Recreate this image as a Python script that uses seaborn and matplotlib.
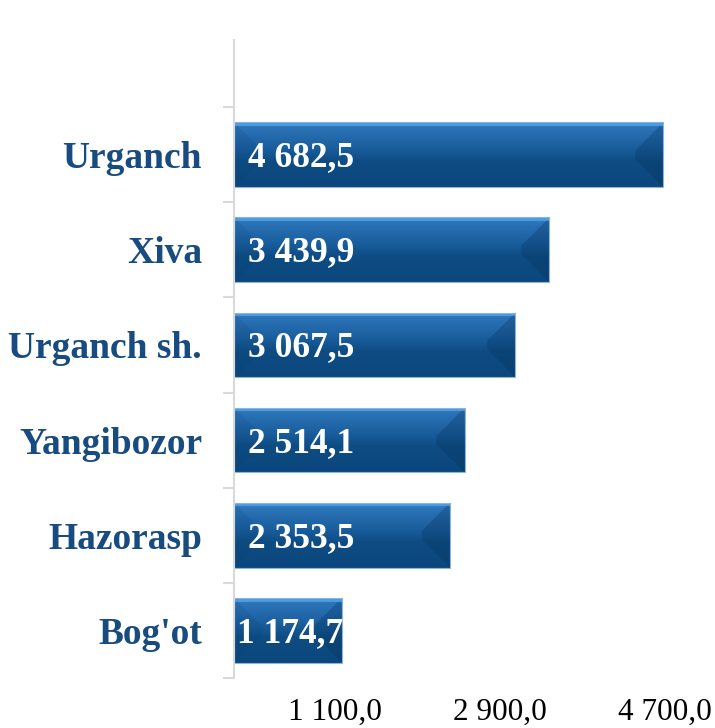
import numpy as np
import pandas as pd
import matplotlib
matplotlib.use("Agg")
import matplotlib.pyplot as plt
from matplotlib.colors import LinearSegmentedColormap
from matplotlib.patches import Polygon
import seaborn as sns

categories = ["Urganch", "Xiva", "Urganch sh.", "Yangibozor", "Hazorasp", "Bog'ot"]
values = [4682.5, 3439.9, 3067.5, 2514.1, 2353.5, 1174.7]
x_ticks = [1100, 2900, 4700]

label_color = "#184C80"
axis_color = "#D9D9D9"

sns.set_style("white")
plt.rcParams['font.family'] = ['Liberation Serif', 'DejaVu Serif']


def fmt(v):
    return f"{v:,.1f}".replace(",", " ").replace(".", ",")


df = pd.DataFrame({"name": categories, "value": values})

fig = plt.figure(figsize=(7.15, 7.28), dpi=100)
ax = fig.add_axes([234 / 715, 50 / 728, 481 / 715, 638 / 728])

bar_h = 0.68
sns.barplot(data=df, x="value", y="name", orient="h", color="#14558F",
            width=bar_h, ax=ax, zorder=2)

ax.set_xlim(0, 5245)
ax.set_ylim(5.5, -1.205)

# gradient + bevel on each bar
cmap = LinearSegmentedColormap.from_list(
    "bar", [(0.0, "#3D8BD0"), (0.08, "#2C74B8"), (0.45, "#175A98"),
            (0.6, "#0E4C83"), (1.0, "#0B477C")])
grad = np.linspace(0, 1, 256).reshape(-1, 1)
px_x = 5245 / 481
px_y = 6.705 / 638
for p in ax.patches:
    x0, y0 = p.get_x(), p.get_y()
    w, h = p.get_width(), p.get_height()
    y_top, y_bot = y0, y0 + h
    p.set_facecolor("none")
    p.set_edgecolor("#8FB3D6")
    p.set_linewidth(0.8)
    im = ax.imshow(grad, cmap=cmap, aspect="auto", extent=[x0, x0 + w, y_bot, y_top],
                   zorder=1.5, interpolation="bicubic")
    im.set_clip_path(p)
    bx = 28 * px_x
    by = 28 * px_y
    # right bevel darker
    ax.add_patch(Polygon([[x0 + w, y_top], [x0 + w - bx, y_top + by],
                          [x0 + w - bx, y_bot - by], [x0 + w, y_bot]],
                         closed=True, facecolor="#06325C", alpha=0.3,
                         edgecolor="none", zorder=1.8))
    # left bevel, subtle
    ax.add_patch(Polygon([[x0, y_top], [x0 + bx, y_top + by],
                          [x0 + bx, y_bot - by], [x0, y_bot]],
                         closed=True, facecolor="#0A3F70", alpha=0.15,
                         edgecolor="none", zorder=1.8))
    # bright top rim
    ax.plot([x0, x0 + w], [y_top + 1.5 * px_y, y_top + 1.5 * px_y],
            color="#4A9DE6", lw=2, zorder=1.9, solid_capstyle="butt")

for i, v in enumerate(values):
    x_txt = 150 if v > 2000 else 35
    ax.text(x_txt, i + 3 * px_y, fmt(v), ha="left", va="center", color="white",
            fontsize=25.5, fontweight="bold", zorder=3)

ax.set_xlabel("")
ax.set_ylabel("")
ax.set_xticks(x_ticks)
ax.set_xticklabels([fmt(t) for t in x_ticks], fontsize=22.5, color="black")
ax.tick_params(axis="x", length=0, pad=14)

ax.set_yticks(range(len(categories)))
ax.set_yticklabels(categories, fontsize=27, fontweight="bold", color=label_color)
ax.tick_params(axis="y", which="major", left=False, length=0, pad=23)
ax.set_yticks(np.arange(-0.5, len(categories), 1.0), minor=True)
ax.tick_params(axis="y", which="minor", left=True, length=8, width=1.5,
               color=axis_color)

for s in ["top", "right", "bottom"]:
    ax.spines[s].set_visible(False)
ax.spines["left"].set_color(axis_color)
ax.spines["left"].set_linewidth(1.5)
ax.grid(False)

fig.savefig("out.png", dpi=100)
